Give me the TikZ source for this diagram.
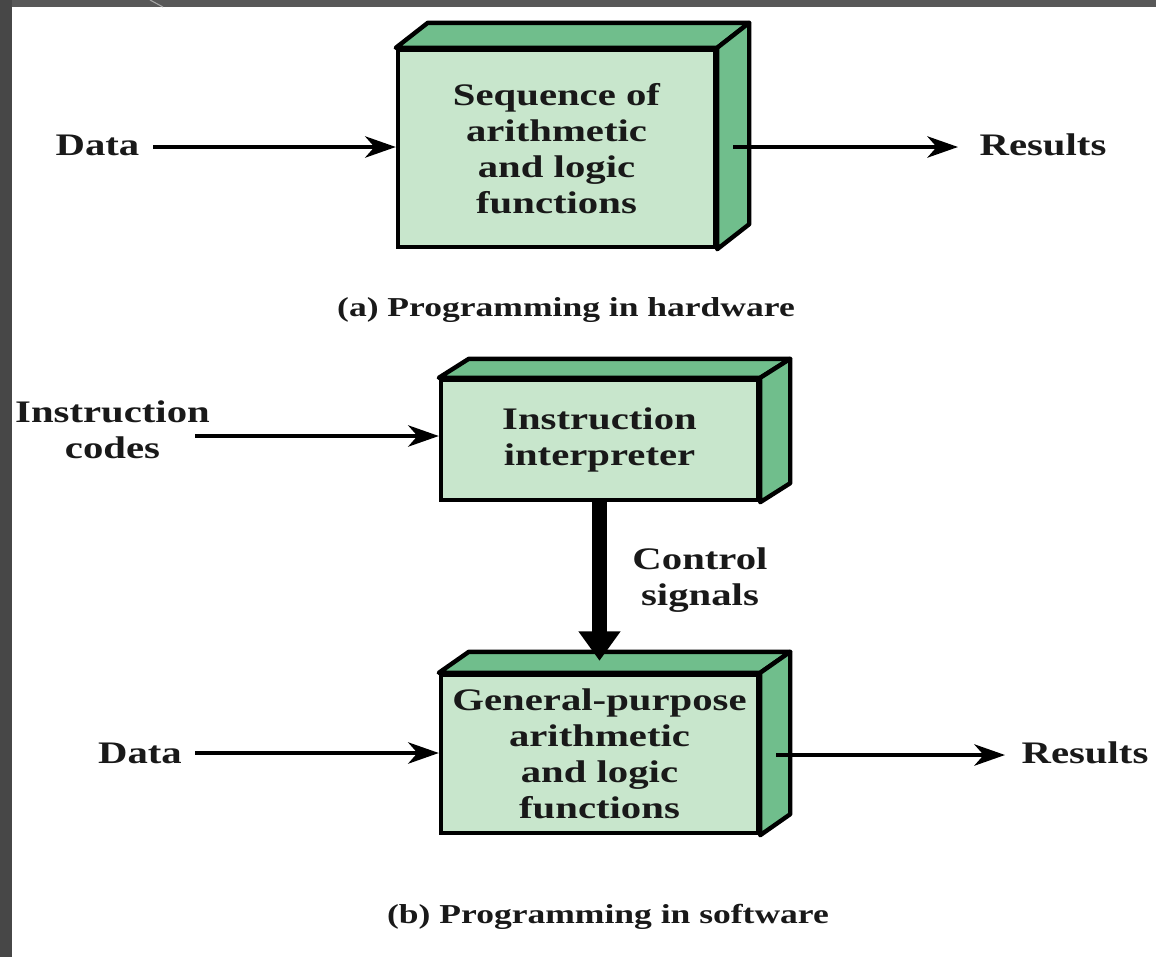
\documentclass[tikz,border=0pt]{standalone}
\usepackage{fontspec}
\setmainfont{Liberation Serif}[FakeStretch=1.3]
\usetikzlibrary{arrows.meta,calc}

\definecolor{framegray}{RGB}{88,88,88}
\definecolor{frontgreen}{RGB}{200,230,204}
\definecolor{sidegreen}{RGB}{112,190,140}

\newcommand\boxfont{\fontsize{23.5}{27}\selectfont\bfseries}
\newcommand\capfont{\fontsize{20.5}{24}\selectfont\bfseries}

% three-dimensional blocks: front face node plus top and side faces
\newcommand\blockfaces[3]{%
  \filldraw[face] (#1.north west) -- ++(#2,#3) -- ($(#1.north east)+(#2,#3)$) -- (#1.north east) -- cycle;
  \filldraw[face] (#1.north east) -- ++(#2,#3) -- ($(#1.south east)+(#2,#3)$) -- (#1.south east) -- cycle;}

\begin{document}
\begin{tikzpicture}[x=0.75pt,y=-0.75pt,
  front/.style={draw=black,line width=3.3pt,fill=frontgreen,inner sep=0pt,
    minimum width=237.75pt,align=center,font=\boxfont,text=black!90},
  face/.style={draw=black,line width=3.3pt,fill=sidegreen,line join=round},
  lbl/.style={font=\boxfont,align=center,inner sep=0pt,anchor=base,text=black!90},
  caption/.style={font=\capfont,inner sep=0pt,anchor=base,text=black!90},
  arr/.style={line width=2.9pt,-{Stealth[length=23pt,width=16pt,inset=7pt]}},
  bigarr/.style={line width=11pt,-{Triangle[length=22pt,width=30pt]}}]

\useasboundingbox (0,0) rectangle (1156,957);
\fill[white] (0,0) rectangle (1156,957);
% dark frame along the top and left edges
\fill[framegray] (0,0) rectangle (1156,7);
\fill[framegray!110] (0,0) rectangle (12,957);
\draw[gray!70,line width=0.8pt] (150,0) -- (163,7);

\node[front,minimum height=147.75pt] (b1) at (556.5,148.5)
  {Sequence of\\arithmetic\\and logic\\functions};
\blockfaces{b1}{32}{-25}

\node[front,minimum height=90pt] (b2) at (599.5,440)
  {Instruction\\interpreter};
\blockfaces{b2}{30}{-19}

\node[front,minimum height=118.5pt] (b3) at (599.5,754)
  {General-purpose\\arithmetic\\and logic\\functions};
\blockfaces{b3}{30}{-21}

% labels (multi-line labels are placed by their last baseline)
\node[lbl] (data1) at (97.5,155) {Data};
\node[lbl] (res1) at (1043,155) {Results};
\node[caption] (capa) at (566,316) {(a) Programming in hardware};
\node[lbl] (icodes) at (112.5,458) {Instruction\\codes};
\node[lbl] (ctrl) at (700,605) {Control\\signals};
\node[lbl] (data2) at (140,763) {Data};
\node[lbl] (res2) at (1085,763) {Results};
\node[caption] (capb) at (608,923) {(b) Programming in software};

% connector end points
\coordinate (d1s) at (153,147);
\coordinate (b1side) at ($(b1.east)+(16,-1.5)$);
\coordinate (r1tip) at (958,147);
\coordinate (ics) at (195,436);
\coordinate (d2s) at (195,753);
\coordinate (b3side) at ($(b3.east)+(16,1)$);
\coordinate (r2tip) at (1005,755);
\coordinate (b3top) at ($(b3.north)+(0,-12)$);

% connectors
\draw[arr] (d1s) -- (d1s -| b1.west);
\draw[arr] (b1side) -- (r1tip);
\draw[arr] (ics) -- (ics -| b2.west);
\draw[arr] (d2s) -- (d2s -| b3.west);
\draw[arr] (b3side) -- (r2tip);
\draw[bigarr] (b2.south) -- (b3top);
\end{tikzpicture}
\end{document}
